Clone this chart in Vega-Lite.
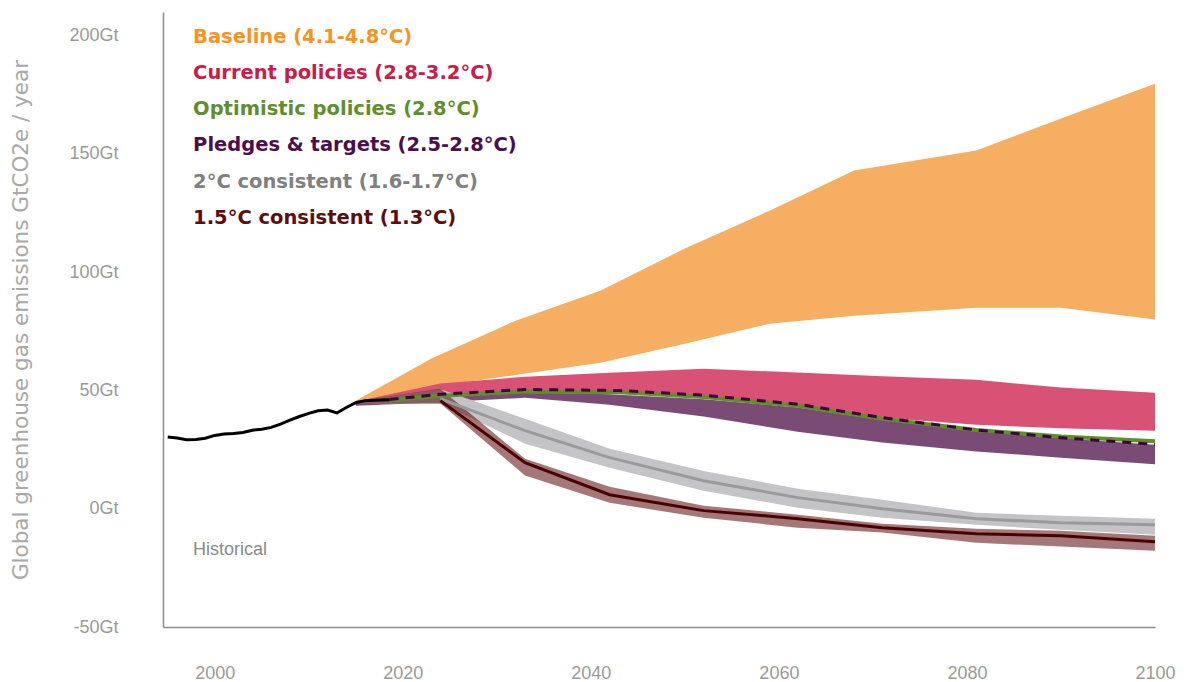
{
  "$schema": "https://vega.github.io/schema/vega-lite/v6.json",
  "width": 992,
  "height": 615,
  "autosize": {"type": "none"},
  "padding": {"left": 163, "top": 12, "right": 40, "bottom": 55},
  "background": "white",
  "config": {
    "view": {"stroke": null},
    "axis": {
      "grid": false,
      "ticks": false,
      "domainColor": "#8c8c8c",
      "domainWidth": 1.5,
      "labelColor": "#9a9a9a",
      "labelFont": "Liberation Sans",
      "labelFontSize": 18,
      "titleFont": "DejaVu Sans",
      "titleFontSize": 21.5,
      "titleFontWeight": "normal",
      "titleColor": "#a8a8a8"
    },
    "text": {"align": "left", "baseline": "middle", "font": "DejaVu Sans", "fontSize": 19.5, "fontWeight": "bold"}
  },
  "datasets": {
    "bands": [
      {"scenario": "Baseline (4.1-4.8°C)", "year": 2015, "lo": 44.8, "hi": 45.7},
      {"scenario": "Baseline (4.1-4.8°C)", "year": 2023, "lo": 51.5, "hi": 63.4},
      {"scenario": "Baseline (4.1-4.8°C)", "year": 2032, "lo": 56.5, "hi": 79.5},
      {"scenario": "Baseline (4.1-4.8°C)", "year": 2041, "lo": 61.7, "hi": 92.2},
      {"scenario": "Baseline (4.1-4.8°C)", "year": 2050, "lo": 69.8, "hi": 110},
      {"scenario": "Baseline (4.1-4.8°C)", "year": 2059, "lo": 78.2, "hi": 126},
      {"scenario": "Baseline (4.1-4.8°C)", "year": 2068, "lo": 81.6, "hi": 143},
      {"scenario": "Baseline (4.1-4.8°C)", "year": 2081, "lo": 85, "hi": 151.4},
      {"scenario": "Baseline (4.1-4.8°C)", "year": 2090, "lo": 85, "hi": 165},
      {"scenario": "Baseline (4.1-4.8°C)", "year": 2100, "lo": 80, "hi": 179.7},
      {"scenario": "Current policies (2.8-3.2°C)", "year": 2015, "lo": 44.5, "hi": 45.3},
      {"scenario": "Current policies (2.8-3.2°C)", "year": 2024, "lo": 47.5, "hi": 52.9},
      {"scenario": "Current policies (2.8-3.2°C)", "year": 2033, "lo": 49.5, "hi": 55.8},
      {"scenario": "Current policies (2.8-3.2°C)", "year": 2042, "lo": 49.2, "hi": 57.5},
      {"scenario": "Current policies (2.8-3.2°C)", "year": 2052, "lo": 47.2, "hi": 59.2},
      {"scenario": "Current policies (2.8-3.2°C)", "year": 2062, "lo": 43.5, "hi": 57.6},
      {"scenario": "Current policies (2.8-3.2°C)", "year": 2071, "lo": 38.5, "hi": 56},
      {"scenario": "Current policies (2.8-3.2°C)", "year": 2081, "lo": 35.5, "hi": 54.5},
      {"scenario": "Current policies (2.8-3.2°C)", "year": 2090, "lo": 34, "hi": 51.2},
      {"scenario": "Current policies (2.8-3.2°C)", "year": 2100, "lo": 33, "hi": 49},
      {"scenario": "Pledges & targets (2.5-2.8°C)", "year": 2015, "lo": 43.5, "hi": 44.5},
      {"scenario": "Pledges & targets (2.5-2.8°C)", "year": 2024, "lo": 45, "hi": 47},
      {"scenario": "Pledges & targets (2.5-2.8°C)", "year": 2033, "lo": 46.9, "hi": 49.2},
      {"scenario": "Pledges & targets (2.5-2.8°C)", "year": 2042, "lo": 44, "hi": 48.4},
      {"scenario": "Pledges & targets (2.5-2.8°C)", "year": 2052, "lo": 39, "hi": 46.3},
      {"scenario": "Pledges & targets (2.5-2.8°C)", "year": 2062, "lo": 32.5, "hi": 42.8},
      {"scenario": "Pledges & targets (2.5-2.8°C)", "year": 2071, "lo": 28, "hi": 37.5},
      {"scenario": "Pledges & targets (2.5-2.8°C)", "year": 2081, "lo": 24.2, "hi": 32.8},
      {"scenario": "Pledges & targets (2.5-2.8°C)", "year": 2090, "lo": 21.6, "hi": 29.8},
      {"scenario": "Pledges & targets (2.5-2.8°C)", "year": 2100, "lo": 18.8, "hi": 27},
      {"scenario": "2°C consistent (1.6-1.7°C)", "year": 2015, "lo": 44.5, "hi": 45.5},
      {"scenario": "2°C consistent (1.6-1.7°C)", "year": 2024, "lo": 44.5, "hi": 50.5},
      {"scenario": "2°C consistent (1.6-1.7°C)", "year": 2033, "lo": 27.5, "hi": 38},
      {"scenario": "2°C consistent (1.6-1.7°C)", "year": 2042, "lo": 17.3, "hi": 25.4},
      {"scenario": "2°C consistent (1.6-1.7°C)", "year": 2052, "lo": 7.6, "hi": 16},
      {"scenario": "2°C consistent (1.6-1.7°C)", "year": 2062, "lo": 0.4, "hi": 8.5},
      {"scenario": "2°C consistent (1.6-1.7°C)", "year": 2071, "lo": -3.8, "hi": 3.8},
      {"scenario": "2°C consistent (1.6-1.7°C)", "year": 2081, "lo": -6.8, "hi": -1.7},
      {"scenario": "2°C consistent (1.6-1.7°C)", "year": 2090, "lo": -8.9, "hi": -3},
      {"scenario": "2°C consistent (1.6-1.7°C)", "year": 2100, "lo": -11, "hi": -4.2},
      {"scenario": "1.5°C consistent (1.3°C)", "year": 2015, "lo": 44.5, "hi": 45.5},
      {"scenario": "1.5°C consistent (1.3°C)", "year": 2024, "lo": 44.5, "hi": 50.7},
      {"scenario": "1.5°C consistent (1.3°C)", "year": 2033, "lo": 14, "hi": 21.1},
      {"scenario": "1.5°C consistent (1.3°C)", "year": 2042, "lo": 2.5, "hi": 9.3},
      {"scenario": "1.5°C consistent (1.3°C)", "year": 2052, "lo": -3.8, "hi": 1.3},
      {"scenario": "1.5°C consistent (1.3°C)", "year": 2062, "lo": -8, "hi": -2.5},
      {"scenario": "1.5°C consistent (1.3°C)", "year": 2071, "lo": -10.1, "hi": -6.3},
      {"scenario": "1.5°C consistent (1.3°C)", "year": 2081, "lo": -14.4, "hi": -8.5},
      {"scenario": "1.5°C consistent (1.3°C)", "year": 2090, "lo": -16, "hi": -9.3},
      {"scenario": "1.5°C consistent (1.3°C)", "year": 2100, "lo": -17.8, "hi": -11.4}
    ],
    "lines": [
      {"series": "Historical", "year": 1995, "value": 30.3},
      {"series": "Historical", "year": 1996, "value": 29.9},
      {"series": "Historical", "year": 1997, "value": 29.2},
      {"series": "Historical", "year": 1998, "value": 29.3},
      {"series": "Historical", "year": 1999, "value": 29.8},
      {"series": "Historical", "year": 2000, "value": 31.0},
      {"series": "Historical", "year": 2001, "value": 31.6},
      {"series": "Historical", "year": 2002, "value": 31.8},
      {"series": "Historical", "year": 2003, "value": 32.2},
      {"series": "Historical", "year": 2004, "value": 33.2},
      {"series": "Historical", "year": 2005, "value": 33.6},
      {"series": "Historical", "year": 2006, "value": 34.4},
      {"series": "Historical", "year": 2007, "value": 35.8},
      {"series": "Historical", "year": 2008, "value": 37.5},
      {"series": "Historical", "year": 2009, "value": 39.0},
      {"series": "Historical", "year": 2010, "value": 40.3},
      {"series": "Historical", "year": 2011, "value": 41.4},
      {"series": "Historical", "year": 2012, "value": 41.7},
      {"series": "Historical", "year": 2013, "value": 40.5},
      {"series": "Historical", "year": 2014, "value": 42.8},
      {"series": "Historical", "year": 2015, "value": 44.8},
      {"series": "Historical", "year": 2016, "value": 45.7},
      {"series": "Historical", "year": 2017, "value": 45.9},
      {"series": "Historical", "year": 2018.6, "value": 46.1},
      {"series": "Optimistic", "year": 2018.6, "value": 45.9},
      {"series": "Optimistic", "year": 2024, "value": 47.8},
      {"series": "Optimistic", "year": 2033, "value": 49.6},
      {"series": "Optimistic", "year": 2043, "value": 49.2},
      {"series": "Optimistic", "year": 2052, "value": 47.2},
      {"series": "Optimistic", "year": 2062, "value": 43.5},
      {"series": "Optimistic", "year": 2071, "value": 38},
      {"series": "Optimistic", "year": 2081, "value": 33.3},
      {"series": "Optimistic", "year": 2090, "value": 30.5},
      {"series": "Optimistic", "year": 2100, "value": 28.5},
      {"series": "Pledges", "year": 2018.6, "value": 46.2},
      {"series": "Pledges", "year": 2024, "value": 48.4},
      {"series": "Pledges", "year": 2033, "value": 50.4},
      {"series": "Pledges", "year": 2043, "value": 50.0},
      {"series": "Pledges", "year": 2052, "value": 48.0},
      {"series": "Pledges", "year": 2062, "value": 44.2},
      {"series": "Pledges", "year": 2071, "value": 38.5},
      {"series": "Pledges", "year": 2081, "value": 33.3},
      {"series": "Pledges", "year": 2090, "value": 30.0},
      {"series": "Pledges", "year": 2100, "value": 27.2},
      {"series": "2C", "year": 2024, "value": 46.5},
      {"series": "2C", "year": 2033, "value": 33},
      {"series": "2C", "year": 2042, "value": 21.6},
      {"series": "2C", "year": 2052, "value": 11.8},
      {"series": "2C", "year": 2062, "value": 4.7},
      {"series": "2C", "year": 2071, "value": 0},
      {"series": "2C", "year": 2081, "value": -4.2},
      {"series": "2C", "year": 2090, "value": -5.9},
      {"series": "2C", "year": 2100, "value": -6.8},
      {"series": "1.5C", "year": 2024, "value": 45.7},
      {"series": "1.5C", "year": 2033, "value": 19.5},
      {"series": "1.5C", "year": 2042, "value": 5.9},
      {"series": "1.5C", "year": 2052, "value": -0.8},
      {"series": "1.5C", "year": 2062, "value": -4.2},
      {"series": "1.5C", "year": 2071, "value": -8.0},
      {"series": "1.5C", "year": 2081, "value": -10.6},
      {"series": "1.5C", "year": 2090, "value": -11.4},
      {"series": "1.5C", "year": 2100, "value": -14}
    ],
    "notes": [
      {"label": "Historical"},
      {"label": "Baseline (4.1-4.8°C)"},
      {"label": "Current policies (2.8-3.2°C)"},
      {"label": "Optimistic policies (2.8°C)"},
      {"label": "Pledges & targets (2.5-2.8°C)"},
      {"label": "2°C consistent (1.6-1.7°C)"},
      {"label": "1.5°C consistent (1.3°C)"}
    ]
  },
  "layer": [
    {
      "data": {"name": "bands"},
      "transform": [{"filter": "datum.scenario === 'Baseline (4.1-4.8°C)'"}],
      "mark": {"type": "area", "color": "#f6ae63"},
      "encoding": {
        "x": {"field": "year", "type": "quantitative", "title": null,
              "scale": {"domain": [1994.5, 2100], "nice": false, "zero": false},
              "axis": {"values": [2000, 2020, 2040, 2060, 2080, 2100], "format": "d", "labelPadding": 37, "labelFlush": false}},
        "y": {"field": "hi", "type": "quantitative", "title": "Global greenhouse gas emissions GtCO2e / year",
              "scale": {"domain": [-50, 210], "nice": false, "zero": false},
              "axis": {"values": [-50, 0, 50, 100, 150, 200], "labelExpr": "datum.value + 'Gt'", "labelPadding": 45, "titlePadding": 36}},
        "y2": {"field": "lo"}
      }
    },
    {
      "data": {"name": "bands"},
      "transform": [{"filter": "datum.scenario === 'Current policies (2.8-3.2°C)'"}],
      "mark": {"type": "area", "color": "#d95276"},
      "encoding": {
        "x": {"field": "year", "type": "quantitative", "title": null, "scale": {"domain": [1994.5, 2100], "nice": false, "zero": false}},
        "y": {"field": "hi", "type": "quantitative", "title": "Global greenhouse gas emissions GtCO2e / year", "scale": {"domain": [-50, 210], "nice": false, "zero": false}},
        "y2": {"field": "lo"}
      }
    },
    {
      "data": {"name": "bands"},
      "transform": [{"filter": "datum.scenario === 'Pledges & targets (2.5-2.8°C)'"}],
      "mark": {"type": "area", "color": "#794b75"},
      "encoding": {
        "x": {"field": "year", "type": "quantitative", "title": null, "scale": {"domain": [1994.5, 2100], "nice": false, "zero": false}},
        "y": {"field": "hi", "type": "quantitative", "title": "Global greenhouse gas emissions GtCO2e / year", "scale": {"domain": [-50, 210], "nice": false, "zero": false}},
        "y2": {"field": "lo"}
      }
    },
    {
      "data": {"name": "bands"},
      "transform": [{"filter": "datum.scenario === '2°C consistent (1.6-1.7°C)'"}],
      "mark": {"type": "area", "color": "#c4c4c6"},
      "encoding": {
        "x": {"field": "year", "type": "quantitative", "title": null, "scale": {"domain": [1994.5, 2100], "nice": false, "zero": false}},
        "y": {"field": "hi", "type": "quantitative", "title": "Global greenhouse gas emissions GtCO2e / year", "scale": {"domain": [-50, 210], "nice": false, "zero": false}},
        "y2": {"field": "lo"}
      }
    },
    {
      "data": {"name": "bands"},
      "transform": [{"filter": "datum.scenario === '1.5°C consistent (1.3°C)'"}],
      "mark": {"type": "area", "color": "#5a0a0a", "opacity": 0.55},
      "encoding": {
        "x": {"field": "year", "type": "quantitative", "title": null, "scale": {"domain": [1994.5, 2100], "nice": false, "zero": false}},
        "y": {"field": "hi", "type": "quantitative", "title": "Global greenhouse gas emissions GtCO2e / year", "scale": {"domain": [-50, 210], "nice": false, "zero": false}},
        "y2": {"field": "lo"}
      }
    },
    {
      "data": {"name": "lines"},
      "transform": [{"filter": "datum.series === 'Optimistic'"}],
      "mark": {"type": "line", "color": "#5e8f2c", "strokeWidth": 4},
      "encoding": {
        "x": {"field": "year", "type": "quantitative", "title": null, "scale": {"domain": [1994.5, 2100], "nice": false, "zero": false}},
        "y": {"field": "value", "type": "quantitative", "title": "Global greenhouse gas emissions GtCO2e / year", "scale": {"domain": [-50, 210], "nice": false, "zero": false}}
      }
    },
    {
      "data": {"name": "lines"},
      "transform": [{"filter": "datum.series === 'Pledges'"}],
      "mark": {"type": "line", "color": "#3a0838", "strokeWidth": 3, "strokeDash": [9, 7]},
      "encoding": {
        "x": {"field": "year", "type": "quantitative", "title": null, "scale": {"domain": [1994.5, 2100], "nice": false, "zero": false}},
        "y": {"field": "value", "type": "quantitative", "title": "Global greenhouse gas emissions GtCO2e / year", "scale": {"domain": [-50, 210], "nice": false, "zero": false}}
      }
    },
    {
      "data": {"name": "lines"},
      "transform": [{"filter": "datum.series === '2C'"}],
      "mark": {"type": "line", "color": "#9a9a9c", "strokeWidth": 3},
      "encoding": {
        "x": {"field": "year", "type": "quantitative", "title": null, "scale": {"domain": [1994.5, 2100], "nice": false, "zero": false}},
        "y": {"field": "value", "type": "quantitative", "title": "Global greenhouse gas emissions GtCO2e / year", "scale": {"domain": [-50, 210], "nice": false, "zero": false}}
      }
    },
    {
      "data": {"name": "lines"},
      "transform": [{"filter": "datum.series === '1.5C'"}],
      "mark": {"type": "line", "color": "#4a0000", "strokeWidth": 3},
      "encoding": {
        "x": {"field": "year", "type": "quantitative", "title": null, "scale": {"domain": [1994.5, 2100], "nice": false, "zero": false}},
        "y": {"field": "value", "type": "quantitative", "title": "Global greenhouse gas emissions GtCO2e / year", "scale": {"domain": [-50, 210], "nice": false, "zero": false}}
      }
    },
    {
      "data": {"name": "lines"},
      "transform": [{"filter": "datum.series === 'Historical'"}],
      "mark": {"type": "line", "color": "#000000", "strokeWidth": 3},
      "encoding": {
        "x": {"field": "year", "type": "quantitative", "title": null, "scale": {"domain": [1994.5, 2100], "nice": false, "zero": false}},
        "y": {"field": "value", "type": "quantitative", "title": "Global greenhouse gas emissions GtCO2e / year", "scale": {"domain": [-50, 210], "nice": false, "zero": false}}
      }
    },
    {
      "data": {"name": "notes"},
      "transform": [{"filter": "datum.label === 'Historical'"}],
      "mark": {"type": "text", "font": "Liberation Sans", "fontSize": 18, "fontWeight": "normal", "fill": "#8a8a8a"},
      "encoding": {"x": {"datum": 1997.7, "type": "quantitative"}, "y": {"datum": -17.3, "type": "quantitative"}, "text": {"field": "label", "type": "nominal"}}
    },
    {
      "data": {"name": "notes"},
      "transform": [{"filter": "datum.label === 'Baseline (4.1-4.8°C)'"}],
      "mark": {"type": "text", "fill": "#f7941d"},
      "encoding": {"x": {"datum": 1997.7, "type": "quantitative"}, "y": {"datum": 199.5, "type": "quantitative"}, "text": {"field": "label", "type": "nominal"}}
    },
    {
      "data": {"name": "notes"},
      "transform": [{"filter": "datum.label === 'Current policies (2.8-3.2°C)'"}],
      "mark": {"type": "text", "fill": "#c81c4b"},
      "encoding": {"x": {"datum": 1997.7, "type": "quantitative"}, "y": {"datum": 184.2, "type": "quantitative"}, "text": {"field": "label", "type": "nominal"}}
    },
    {
      "data": {"name": "notes"},
      "transform": [{"filter": "datum.label === 'Optimistic policies (2.8°C)'"}],
      "mark": {"type": "text", "fill": "#5e8f2c"},
      "encoding": {"x": {"datum": 1997.7, "type": "quantitative"}, "y": {"datum": 168.9, "type": "quantitative"}, "text": {"field": "label", "type": "nominal"}}
    },
    {
      "data": {"name": "notes"},
      "transform": [{"filter": "datum.label === 'Pledges & targets (2.5-2.8°C)'"}],
      "mark": {"type": "text", "fill": "#4b0f4b"},
      "encoding": {"x": {"datum": 1997.7, "type": "quantitative"}, "y": {"datum": 153.6, "type": "quantitative"}, "text": {"field": "label", "type": "nominal"}}
    },
    {
      "data": {"name": "notes"},
      "transform": [{"filter": "datum.label === '2°C consistent (1.6-1.7°C)'"}],
      "mark": {"type": "text", "fill": "#808080"},
      "encoding": {"x": {"datum": 1997.7, "type": "quantitative"}, "y": {"datum": 138.3, "type": "quantitative"}, "text": {"field": "label", "type": "nominal"}}
    },
    {
      "data": {"name": "notes"},
      "transform": [{"filter": "datum.label === '1.5°C consistent (1.3°C)'"}],
      "mark": {"type": "text", "fill": "#5c0e0e"},
      "encoding": {"x": {"datum": 1997.7, "type": "quantitative"}, "y": {"datum": 122.9, "type": "quantitative"}, "text": {"field": "label", "type": "nominal"}}
    }
  ]
}
